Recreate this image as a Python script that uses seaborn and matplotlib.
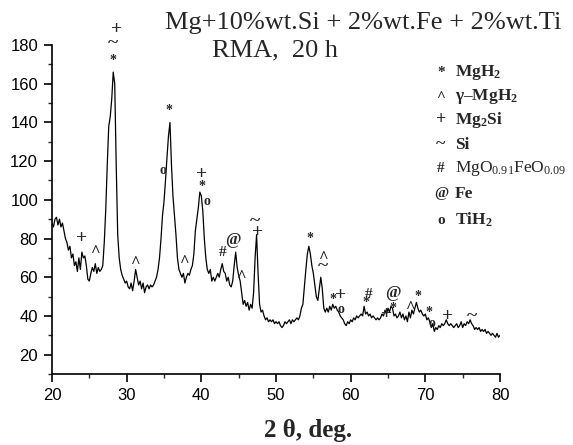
import matplotlib
matplotlib.use("Agg")
import matplotlib.pyplot as plt
import seaborn as sns
import pandas as pd

# XRD scan: 2-theta (deg) and intensity (counts)
two_theta = [
    20.0, 20.2, 20.4, 20.6, 20.8, 21.0, 21.2, 21.4, 21.6, 21.8,
    22.0, 22.2, 22.4, 22.6, 22.8, 23.0, 23.2, 23.4, 23.6, 23.8,
    24.0, 24.2, 24.4, 24.6, 24.8, 25.0, 25.2, 25.4, 25.6, 25.8,
    26.0, 26.2, 26.4, 26.6, 26.8, 27.0, 27.2, 27.4, 27.6, 27.8,
    28.0, 28.2, 28.4, 28.6, 28.8, 29.0, 29.2, 29.4, 29.6, 29.8,
    30.0, 30.2, 30.4, 30.6, 30.8, 31.0, 31.2, 31.4, 31.6, 31.8,
    32.0, 32.2, 32.4, 32.6, 32.8, 33.0, 33.2, 33.4, 33.6, 33.8,
    34.0, 34.2, 34.4, 34.6, 34.8, 35.0, 35.2, 35.4, 35.6, 35.8,
    36.0, 36.2, 36.4, 36.6, 36.8, 37.0, 37.2, 37.4, 37.6, 37.8,
    38.0, 38.2, 38.4, 38.6, 38.8, 39.0, 39.2, 39.4, 39.6, 39.8,
    40.0, 40.2, 40.4, 40.6, 40.8, 41.0, 41.2, 41.4, 41.6, 41.8,
    42.0, 42.2, 42.4, 42.6, 42.8, 43.0, 43.2, 43.4, 43.6, 43.8,
    44.0, 44.2, 44.4, 44.6, 44.8, 45.0, 45.2, 45.4, 45.6, 45.8,
    46.0, 46.2, 46.4, 46.6, 46.8, 47.0, 47.2, 47.4, 47.6, 47.8,
    48.0, 48.2, 48.4, 48.6, 48.8, 49.0, 49.2, 49.4, 49.6, 49.8,
    50.0, 50.2, 50.4, 50.6, 50.8, 51.0, 51.2, 51.4, 51.6, 51.8,
    52.0, 52.2, 52.4, 52.6, 52.8, 53.0, 53.2, 53.4, 53.6, 53.8,
    54.0, 54.2, 54.4, 54.6, 54.8, 55.0, 55.2, 55.4, 55.6, 55.8,
    56.0, 56.2, 56.4, 56.6, 56.8, 57.0, 57.2, 57.4, 57.6, 57.8,
    58.0, 58.2, 58.4, 58.6, 58.8, 59.0, 59.2, 59.4, 59.6, 59.8,
    60.0, 60.2, 60.4, 60.6, 60.8, 61.0, 61.2, 61.4, 61.6, 61.8,
    62.0, 62.2, 62.4, 62.6, 62.8, 63.0, 63.2, 63.4, 63.6, 63.8,
    64.0, 64.2, 64.4, 64.6, 64.8, 65.0, 65.2, 65.4, 65.6, 65.8,
    66.0, 66.2, 66.4, 66.6, 66.8, 67.0, 67.2, 67.4, 67.6, 67.8,
    68.0, 68.2, 68.4, 68.6, 68.8, 69.0, 69.2, 69.4, 69.6, 69.8,
    70.0, 70.2, 70.4, 70.6, 70.8, 71.0, 71.2, 71.4, 71.6, 71.8,
    72.0, 72.2, 72.4, 72.6, 72.8, 73.0, 73.2, 73.4, 73.6, 73.8,
    74.0, 74.2, 74.4, 74.6, 74.8, 75.0, 75.2, 75.4, 75.6, 75.8,
    76.0, 76.2, 76.4, 76.6, 76.8, 77.0, 77.2, 77.4, 77.6, 77.8,
    78.0, 78.2, 78.4, 78.6, 78.8, 79.0, 79.2, 79.4, 79.6, 79.8,
    80.0,
]
intensity = [
    88, 86, 90, 91, 87, 90, 86, 88, 84, 80,
    78, 74, 76, 70, 72, 66, 68, 63, 70, 64,
    73, 70, 71, 66, 59, 58, 62, 65, 63, 67,
    62, 65, 63, 64, 66, 78, 95, 118, 138, 143,
    152, 166, 160, 118, 82, 70, 64, 61, 59, 57,
    58, 55, 54, 57, 53, 58, 64, 60, 56, 58,
    54, 57, 52, 55, 56, 54, 56, 55, 56, 58,
    60, 64, 70, 80, 92, 99, 110, 122, 133, 140,
    118, 102, 92, 82, 70, 64, 62, 60, 62, 57,
    60, 62, 61, 64, 66, 72, 84, 90, 96, 104,
    102, 94, 80, 70, 64, 62, 64, 58, 60, 58,
    60, 62, 60, 64, 67, 63, 62, 58, 60, 56,
    55, 58, 66, 73, 65, 61, 58, 52, 46, 48,
    45, 47, 43, 46, 44, 52, 70, 82, 62, 46,
    42, 43, 40, 38, 39, 37, 38, 37, 38, 36,
    37, 36, 37, 35, 34, 35, 37, 36, 37, 38,
    36, 38, 37, 38, 39, 38, 40, 44, 46, 55,
    64, 72, 76, 72, 66, 62, 56, 50, 48, 54,
    60, 54, 44, 42, 44, 42, 45, 43, 46, 44,
    45, 43, 42, 40, 39, 38, 36, 35, 37, 36,
    38, 37, 39, 38, 40, 39, 40, 41, 40, 45,
    41, 42, 40, 41, 39, 40, 39, 38, 39, 38,
    39, 41, 40, 43, 41, 44, 42, 45, 44, 40,
    41, 39, 40, 42, 39, 41, 38, 40, 37, 42,
    39, 43, 41, 44, 47, 44, 42, 43, 41, 40,
    41, 38, 39, 37, 34, 36, 32, 34, 33, 35,
    34, 36, 35, 36, 38, 36, 35, 36, 35, 34,
    35, 36, 34, 35, 37, 34, 36, 35, 37, 36,
    38, 36, 35, 33, 34, 33, 34, 32, 33, 32,
    33, 31, 32, 31, 30, 31, 30, 29, 31, 29,
    30,
]

# Phase markers placed over the reflections: (symbol, 2-theta, height)
marker_symbols = ["+", "^", "*", "~", "+", "^", "*", "o", "^",
                  "+", "*", "o", "#", "@", "^", "~", "+",
                  "*", "^", "~", "*", "+", "o", "#", "*",
                  "@", "*", "+", "^", "*", "*", "o", "+", "~"]
marker_theta = [24.0, 25.8, 28.2, 28.2, 28.6, 31.1, 35.7, 34.8, 37.7,
                40.05, 40.05, 40.8, 42.8, 44.2, 45.3, 47.2, 47.5,
                54.55, 56.25, 56.25, 57.6, 58.7, 58.7, 62.4, 62.05,
                65.7, 65.6, 64.8, 67.95, 69.06, 70.5, 70.85, 72.95, 76.2]
marker_height = [80, 73, 172, 181, 188, 67.5, 146, 115, 68,
                 113, 107, 99, 73, 79, 60, 89, 83,
                 80, 70, 65.5, 48.7, 50.6, 43.2, 51, 46.7,
                 51.8, 44, 40.6, 44, 50, 41.8, 36, 39.5, 39.8]

# Phase key
key_symbols = ["*", "^", "+", "~", "#", "@", "o"]
key_labels = [r"MgH$_2$", r"γ–MgH$_2$", r"Mg$_2$Si", "Si",
              r"MgO$_{0.91}$FeO$_{0.09}$", "Fe", r"TiH$_2$"]
key_bold = [True, True, True, True, False, True, True]

title_lines = ["Mg+10%wt.Si + 2%wt.Fe + 2%wt.Ti", "RMA,  20 h"]
x_ticks = [20, 30, 40, 50, 60, 70, 80]
y_ticks = [20, 40, 60, 80, 100, 120, 140, 160, 180]

sns.set_style("ticks")
plt.rcParams["font.family"] = ["Liberation Sans", "DejaVu Sans"]
plt.rcParams["mathtext.fontset"] = "custom"
plt.rcParams["mathtext.rm"] = "Liberation Serif"
plt.rcParams["mathtext.bf"] = "Liberation Serif:bold"
plt.rcParams["mathtext.default"] = "regular"

SERIF = ["Liberation Serif", "DejaVu Serif"]

fig = plt.figure(figsize=(5.73, 4.45), dpi=100)
ax = fig.add_axes([52 / 573, 1 - 374 / 445, 448 / 573, 329 / 445])

scan = pd.DataFrame({"two_theta": two_theta, "intensity": intensity})
sns.lineplot(data=scan, x="two_theta", y="intensity", ax=ax,
             color="black", linewidth=0.9, estimator=None, sort=False)

ax.set_xlim(20, 80)
ax.set_ylim(10, 180)
ax.set_xticks(x_ticks)
ax.set_yticks(y_ticks)
ax.set_xticks([25, 35, 45, 55, 65, 75], minor=True)
ax.set_yticks([10, 30, 50, 70, 90, 110, 130, 150, 170], minor=True)
ax.tick_params(axis="both", which="major", direction="out", length=6,
               width=1.2, labelsize=12, colors="black", pad=4)
ax.tick_params(axis="both", which="minor", direction="out", length=3,
               width=1.0)
for side in ("left", "bottom"):
    ax.spines[side].set_linewidth(1.2)
    ax.spines[side].set_color("black")
sns.despine(ax=ax)
ax.set_xlabel("")
ax.set_ylabel("")

fig.text(308 / 573, 1 - 430 / 445, "2 θ, deg.", ha="center", va="center",
         family=SERIF, fontweight="bold", fontsize=18)

size_for = {"+": 14, "~": 14, "*": 10, "^": 12, "o": 10, "#": 11, "@": 12}
for sym, tx, ty in zip(marker_symbols, marker_theta, marker_height):
    ax.text(tx, ty, sym, ha="center", va="center", family=SERIF,
            fontweight="bold", fontsize=size_for[sym], clip_on=False)

fig.text(165 / 573, 1 - 29 / 445, title_lines[0], ha="left",
         va="baseline", family=SERIF, fontsize=19)
fig.text(212 / 573, 1 - 56 / 445, title_lines[1], ha="left",
         va="baseline", family=SERIF, fontsize=19)

key_y = [72, 97, 120, 145, 169, 194, 220]
for sym, label, bold, yp in zip(key_symbols, key_labels, key_bold, key_y):
    fig.text(441 / 573, 1 - yp / 445, sym, ha="center", va="center",
             family=SERIF, fontweight="bold",
             fontsize=13 if sym in "+~" else 11)
    fig.text(455 / 573, 1 - yp / 445, label, ha="left", va="center",
             family=SERIF, fontweight="bold" if bold else "normal",
             fontsize=12.5)

fig.savefig("out.png", dpi=100)
